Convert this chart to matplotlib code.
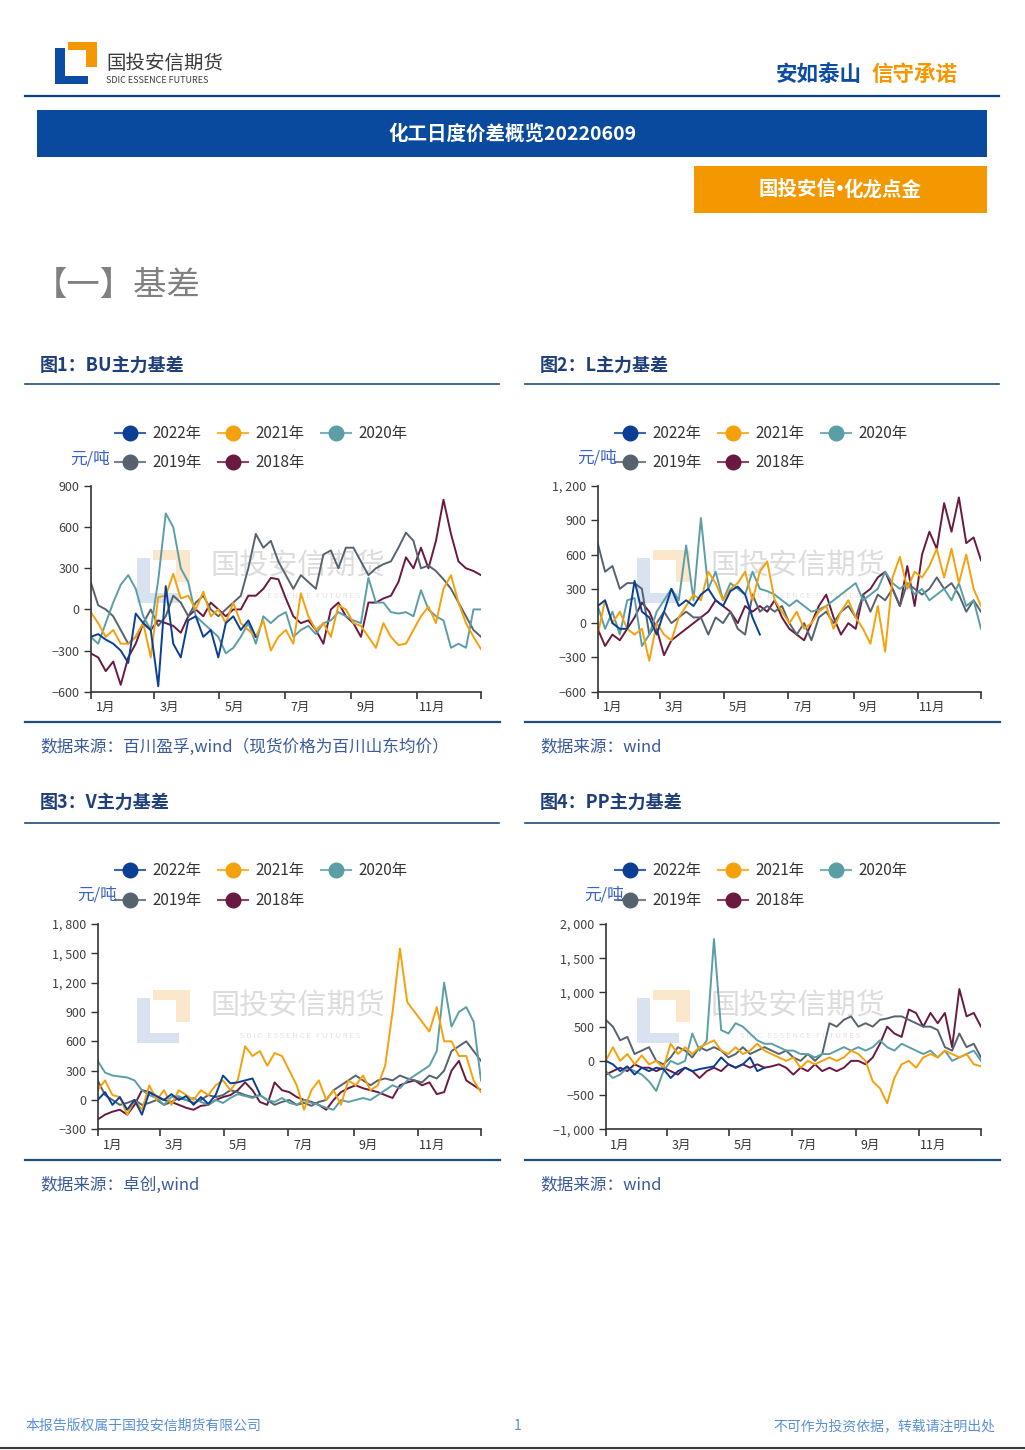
import numpy as np
import matplotlib
matplotlib.use('Agg')
import matplotlib.pyplot as plt
from matplotlib.patches import Rectangle

plt.rcParams['font.family'] = ['Noto Sans CJK SC', 'DejaVu Sans']
plt.rcParams['axes.unicode_minus'] = True

W, H = 1025, 1450

year_labels = ['2022年', '2021年', '2020年', '2019年', '2018年']
colors = ['#0B3F96', '#F5A10C', '#5C9EA6', '#56636E', '#6A1941']

# day-of-year positions for the month axis
month_ticks = [0, 59, 120, 181, 243, 304, 364]
month_label_pos = [14, 73, 134, 195, 257, 318]
month_labels = ['1月', '3月', '5月', '7月', '9月', '11月']

# weekly basis values (元/吨)
bu_2022 = [-200, -180, -220, -250, -300, -390, -30, -100, -150, -560, 170, -250, -350, -80, -50,
           -200, -150, -350, -100, -50, -150, -80, -200]
bu_2021 = [-20, -100, -200, -150, -250, -250, -200, -100, -350, 90, 100, 260, 80, 100, 0, 130, -50,
           0, -100, 50, -100, -150, -200, -80, -300, -200, -150, -250, 118, -50, -150, -100, -200,
           30, 0, -100, -120, -200, -280, -100, -200, -260, -250, -150, -50, 20, -100, 150, 250,
           50, -100, -200, -290]
bu_2020 = [-200, -250, -100, 50, 180, 250, 150, -50, -150, 215, 700, 600, 300, 200, -50, -100,
           -150, -200, -320, -280, -200, -100, -250, -50, -100, -50, -20, -200, -150, -120, -180,
           -100, -80, -20, -50, -80, -100, 230, 50, 50, -20, -30, -20, -50, 140, 0, -50, -80, -280,
           -250, -280, 0, 0]
bu_2019 = [200, 30, 0, -50, -150, -250, -200, -100, 0, -120, -50, 100, 50, -50, 50, 100, 0, -50, 0,
           50, 100, 300, 550, 450, 500, 350, 250, 150, 250, 200, 150, 400, 430, 300, 450, 450, 350,
           250, 300, 330, 350, 450, 560, 500, 300, 320, 280, 220, 150, 50, -50, -150, -200]
bu_2018 = [-320, -350, -450, -380, -550, -350, -250, -100, -150, -80, -100, -120, -170, -50, 0,
           -50, 50, 0, -50, 0, 0, 100, 100, 150, 230, 220, 80, -50, -100, -80, -150, -250, 0, 50,
           -50, -100, -200, 50, 50, 80, 100, 200, 380, 300, 450, 300, 500, 800, 550, 350, 300, 280,
           250]

l_2022 = [150, 200, 0, -50, -50, 370, 100, 50, -100, 100, 300, 150, 200, 150, 250, 300, 200, 150,
          280, 320, 250, 50, -100]
l_2021 = [-100, 200, 0, 100, -50, -100, -50, -330, 0, -100, -150, 50, 150, 250, 200, 450, 350, 200,
          300, 350, 450, 200, 450, 540, 200, 100, 0, 100, -50, 0, 100, 150, -50, 100, 200, 50, -50,
          -180, 150, -250, 400, 580, 300, 450, 400, 500, 650, 400, 650, 350, 600, 300, 150]
l_2020 = [150, -50, 100, -100, 200, 220, -200, -100, 100, 200, 300, 200, 680, 200, 920, 300, 450,
          200, 350, 300, 250, 450, 300, 280, 250, 200, 150, 200, 150, 100, 120, 150, 200, 250, 300,
          350, 200, 250, 300, 450, 350, 300, 350, 250, 300, 200, 250, 300, 200, 350, 150, 200, -50]
l_2019 = [700, 450, 500, 300, 350, 350, 300, -100, 0, 100, 0, 50, 100, 50, 50, -100, 50, 0, 100,
          -50, -100, 250, 100, 150, 100, 150, 0, -100, 0, -150, 50, 100, 0, 100, 150, 50, 250, 100,
          250, 200, 300, 150, 350, 300, 250, 300, 400, 300, 350, 250, 100, 200, 100]
l_2018 = [-50, -200, -100, -150, -50, 50, 180, 100, -50, -280, -150, -100, -50, 0, 50, 100, 200,
          150, 100, 0, 150, 100, 150, 100, 200, 50, -50, -100, -150, 0, 150, 250, 50, -100, 0, -50,
          250, 300, 400, 450, 300, 150, 500, 150, 600, 800, 650, 1050, 800, 1100, 700, 750, 550]

v_2022 = [0, 80, -50, 30, -100, 0, -150, 80, 40, 0, 60, 0, 40, -50, 30, -40, 50, 250, 170, 180,
          200, 220, 60]
v_2021 = [100, 200, 50, 30, -150, 0, -100, 150, 0, 100, -50, 100, 50, 0, 100, 50, 150, 200, 100,
          200, 550, 450, 500, 350, 480, 450, 300, 150, -100, 100, 200, 0, 100, -50, 200, 150, 250,
          100, 150, 350, 900, 1550, 1000, 900, 800, 700, 950, 600, 600, 450, 450, 200, 80]
v_2020 = [400, 280, 250, 240, 230, 200, 100, 50, 20, -50, 30, 40, 0, 20, -20, -50, 0, -30, 20, 60,
          40, 20, 50, 0, -20, 20, -30, -50, 0, -30, -50, -80, -100, 0, -20, 0, 20, 0, 50, 100, 150,
          120, 200, 250, 300, 350, 500, 1200, 750, 900, 950, 800, 200]
v_2019 = [200, 50, 0, -50, -30, 0, -50, -30, 0, -50, -20, 20, 0, -30, 0, 50, 30, 50, 100, 80, 50,
          30, 50, 0, -50, -20, 0, -50, -30, -60, -20, 0, 100, 150, 200, 250, 200, 150, 200, 220,
          200, 250, 220, 200, 180, 250, 220, 300, 500, 550, 600, 500, 400]
v_2018 = [-200, -150, -120, -100, -150, -50, 100, 80, 30, 0, -20, -50, -80, -100, -60, -50, 0, 30,
          50, 100, 180, 100, -20, -50, 180, 100, 80, 30, 0, -20, -50, -100, 0, 80, 120, 150, 120,
          100, 80, 50, 20, 150, 180, 200, 150, 180, 60, 80, 300, 400, 200, 150, 100]

pp_2022 = [0, -50, -150, -80, -200, -100, -150, -100, -120, -250, -150, -100, -150, -120, -100,
           -80, 50, -50, -100, -50, 50, -150, -100]
pp_2021 = [0, 200, 0, 100, -50, 80, -50, 0, -100, 250, 100, 200, 100, 200, 250, 300, 150, 100, 200,
           100, 150, 250, 150, 100, 50, 0, 50, -100, 0, -50, 0, 50, 0, 50, 150, 100, 0, -300, -400,
           -620, -250, -50, 0, -100, 50, 100, 50, 150, 100, 50, 100, -50, -80]
pp_2020 = [-150, -250, -200, -100, -150, -200, -300, -440, -150, 0, -50, 0, 400, 150, 300, 1780,
           450, 400, 550, 500, 400, 300, 250, 250, 200, 150, 150, 100, 100, 50, 100, 100, 150, 200,
           150, 200, 150, 200, 300, 200, 150, 250, 200, 150, 100, 150, 50, 150, 0, 50, 100, 150, 0]
pp_2019 = [600, 500, 300, 350, 100, 150, 200, 0, -50, 50, 200, 150, 50, 200, 150, 200, 150, 50,
           100, 200, 100, 150, 200, 150, 100, 150, 50, 0, 100, 0, 100, 550, 500, 600, 650, 500, 550,
           500, 600, 620, 650, 650, 600, 550, 500, 500, 450, 200, 150, 400, 200, 250, 50]
pp_2018 = [-200, -150, -100, -150, -50, -100, -100, -150, -100, -150, -200, -100, -150, -250, -150,
           -100, -150, -50, -100, -50, -100, -50, -100, -80, -50, -100, -200, -100, -150, -50, -150,
           -100, -150, -100, 0, 0, -50, 50, 250, 500, 400, 350, 750, 700, 500, 700, 550, 700, 200,
           1050, 650, 700, 500]

bu_yticks = [900, 600, 300, 0, -300, -600]
bu_ylabels = ['900', '600', '300', '0', '−300', '−600']
l_yticks = [1200, 900, 600, 300, 0, -300, -600]
l_ylabels = ['1, 200', '900', '600', '300', '0', '−300', '−600']
v_yticks = [1800, 1500, 1200, 900, 600, 300, 0, -300]
v_ylabels = ['1, 800', '1, 500', '1, 200', '900', '600', '300', '0', '−300']
pp_yticks = [2000, 1500, 1000, 500, 0, -500, -1000]
pp_ylabels = ['2, 000', '1, 500', '1, 000', '500', '0', '−500', '−1, 000']

charts = [
    dict(title='图1：BU主力基差', source='数据来源：百川盈孚,wind（现货价格为百川山东均价）',
         origin=(25, 410), box=(90.7, 486, 481, 691.7), cap_y=365, line_y=384, end_y=722,
         src_y=747, leg_y=(433, 462), unit=(90, 459),
         yticks=bu_yticks, ylabels=bu_ylabels, series=[bu_2022, bu_2021, bu_2020, bu_2019, bu_2018]),
    dict(title='图2：L主力基差', source='数据来源：wind',
         origin=(525, 410), box=(597.7, 486, 981, 691.7), cap_y=365, line_y=384, end_y=722,
         src_y=747, leg_y=(433, 462), unit=(597, 458),
         yticks=l_yticks, ylabels=l_ylabels, series=[l_2022, l_2021, l_2020, l_2019, l_2018]),
    dict(title='图3：V主力基差', source='数据来源：卓创,wind',
         origin=(25, 850), box=(97.7, 924, 481, 1129.3), cap_y=802, line_y=823, end_y=1160,
         src_y=1185, leg_y=(870, 900), unit=(97, 895),
         yticks=v_yticks, ylabels=v_ylabels, series=[v_2022, v_2021, v_2020, v_2019, v_2018]),
    dict(title='图4：PP主力基差', source='数据来源：wind',
         origin=(525, 850), box=(605.7, 924, 981, 1129.3), cap_y=802, line_y=823, end_y=1160,
         src_y=1185, leg_y=(870, 900), unit=(604, 895),
         yticks=pp_yticks, ylabels=pp_ylabels, series=[pp_2022, pp_2021, pp_2020, pp_2019, pp_2018]),
]

fig = plt.figure(figsize=(W / 100, H / 100), dpi=100)
bg = fig.add_axes([0, 0, 1, 1])
bg.set_xlim(0, W)
bg.set_ylim(H, 0)
bg.axis('off')


def rect(x0, y0, x1, y1, color, z=1):
    bg.add_patch(Rectangle((x0, y0), x1 - x0, y1 - y0, facecolor=color, edgecolor='none', zorder=z))


# header logo
rect(55, 48, 88, 84, '#0B4DA2')
rect(65, 48, 88, 76, 'white', 2)
rect(68, 42, 97, 67, '#F39800', 3)
rect(68, 50, 86, 67, 'white', 4)
bg.text(106, 63, '国投安信期货', fontsize=14, color='#3B3B3B', va='center')
bg.text(106, 80, 'SDIC ESSENCE FUTURES', fontsize=6.5, color='#3B3B3B', va='center')
bg.text(776, 74, '安如泰山', fontsize=15.5, fontweight='bold', color='#0C4DA2', va='center')
bg.text(872, 74, '信守承诺', fontsize=15.5, fontweight='bold', color='#F39800', va='center')
bg.plot([25, 999], [96, 96], color='#0B3F86', lw=1.6)

rect(37, 110, 987, 157, '#0A4A9E')
bg.text(512, 133.5, '化工日度价差概览20220609', fontsize=14, fontweight='bold', color='white',
        ha='center', va='center')
rect(694, 166, 987, 213, '#F39800')
bg.text(837, 189.5, '国投安信', fontsize=14, fontweight='bold', color='white',
        ha='right', va='center')
bg.text(840, 189.5, '•', fontsize=11, fontweight='bold', color='white', family='DejaVu Sans',
        ha='center', va='center')
bg.text(843, 189.5, '化龙点金', fontsize=14, fontweight='bold', color='white',
        ha='left', va='center')
bg.text(34, 285, '【一】基差', fontsize=24, color='#808080', va='center')

for ch in charts:
    ox, oy = ch['origin']
    # caption, rules, source
    bg.text(ox + 15, ch['cap_y'], ch['title'], fontsize=13, fontweight='bold', color='#1F3F7A',
            va='center')
    bg.plot([ox, ox + 474], [ch['line_y'], ch['line_y']], color='#1F4E79', lw=1.2)
    bg.plot([ox, ox + 475], [ch['end_y'], ch['end_y']], color='#1F4E79', lw=1.6)
    bg.text(ox + 15, ch['src_y'], ch['source'], fontsize=12, color='#3A5A9A', va='center')

    # watermark
    wx, wy = ox + 112, oy + 140
    rect(wx, wy + 8, wx + 42, wy + 53, '#D8E2F0')
    rect(wx + 13, wy + 8, wx + 42, wy + 43, 'white', 2)
    rect(wx + 16, wy, wx + 53, wy + 32, '#FBE7CB', 3)
    rect(wx + 16, wy + 10, wx + 39, wy + 32, 'white', 4)
    bg.text(ox + 273, oy + 157, '国投安信期货', fontsize=21, color='#DCDCDC', ha='center', va='center')
    bg.text(ox + 275, oy + 186, 'S D I C   E S S E N C E   F U T U R E S', fontsize=5.5,
            color='#E2E2E2', ha='center', va='center')

    # legend
    for i, (lab, c) in enumerate(zip(year_labels, colors)):
        col = i if i < 3 else i - 3
        row = 0 if i < 3 else 1
        mx = ox + 105 + 103 * col
        my = ch['leg_y'][row]
        bg.plot([mx - 15, mx + 15], [my, my], color=c, lw=1.5, alpha=0.8)
        bg.plot(mx, my, 'o', color=c, ms=10.5)
        bg.text(mx + 22, my, lab, fontsize=11, color='#333333', va='center')
    bg.text(ch['unit'][0], ch['unit'][1], '元/吨', fontsize=12, color='#3A62C4', ha='center',
            va='center')

    # chart
    l, t, r, b = ch['box']
    ax = fig.add_axes([l / W, 1 - b / H, (r - l) / W, (b - t) / H])
    ax.patch.set_alpha(0)
    for vals, c in zip(reversed(ch['series']), reversed(colors)):
        ax.plot(np.arange(len(vals)) * 7, vals, color=c, lw=1.4)
    ax.set_xlim(0, 364)
    ax.set_ylim(ch['yticks'][-1], ch['yticks'][0])
    ax.set_yticks(ch['yticks'])
    ax.set_yticklabels(ch['ylabels'])
    ax.set_xticks(month_ticks)
    ax.set_xticklabels([])
    ax.set_xticks(month_label_pos, minor=True)
    ax.set_xticklabels(month_labels, minor=True)
    ax.tick_params(axis='x', which='minor', length=0, pad=7, labelsize=9, labelcolor='#333333')
    ax.tick_params(axis='x', which='major', length=5, width=1.2, color='#333333')
    ax.tick_params(axis='y', length=5, width=1, color='#333333', labelsize=9,
                   labelcolor='#404040', pad=3)
    for s in ['top', 'right']:
        ax.spines[s].set_visible(False)
    for s in ['left', 'bottom']:
        ax.spines[s].set_color('#333333')
        ax.spines[s].set_linewidth(1.2)

# footer
bg.text(25, 1426, '本报告版权属于国投安信期货有限公司', fontsize=10, color='#5A8FD6', va='center')
bg.text(518, 1426, '1', fontsize=10, color='#5A8FD6', ha='center', va='center')
bg.text(995, 1426, '不可作为投资依据，转载请注明出处', fontsize=10, color='#5A8FD6', ha='right',
        va='center')
bg.plot([0, W], [1448, 1448], color='#3A3A3A', lw=1.5)

fig.savefig('out.png', dpi=100)
